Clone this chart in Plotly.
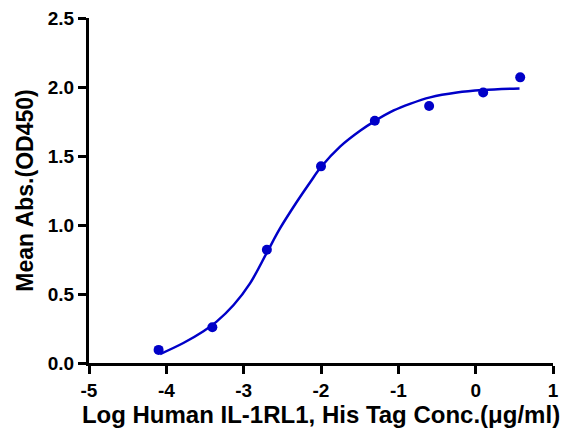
import plotly.graph_objects as go

# Measured points
log_conc = [-4.10, -3.405, -2.70, -2.00, -1.304, -0.602, 0.097, 0.576]
mean_abs = [0.095, 0.259, 0.821, 1.425, 1.756, 1.862, 1.960, 2.070]

# Fitted curve
curve_x = [-4.08, -3.78, -3.52, -3.35, -3.13, -2.92, -2.70, -2.53, -2.31, -2.14,
           -2.00, -1.75, -1.49, -1.30, -1.06, -0.85, -0.589, -0.243, 0.093, 0.567]
curve_y = [0.065, 0.145, 0.230, 0.300, 0.420, 0.575, 0.800, 0.975, 1.170, 1.310,
           1.420, 1.570, 1.685, 1.755, 1.830, 1.878, 1.925, 1.960, 1.978, 1.990]

x_ticks = [-5, -4, -3, -2, -1, 0, 1]
y_ticks = [0.0, 0.5, 1.0, 1.5, 2.0, 2.5]
y_tick_labels = ["0.0", "0.5", "1.0", "1.5", "2.0", "2.5"]

blue = "#0000C8"

fig = go.Figure()
fig.add_trace(go.Scatter(x=curve_x, y=curve_y, mode="lines",
                         line=dict(color=blue, width=2.5, shape="spline", smoothing=1.0),
                         showlegend=False, hoverinfo="skip"))
fig.add_trace(go.Scatter(x=log_conc, y=mean_abs, mode="markers",
                         marker=dict(color=blue, size=10),
                         showlegend=False))

font_family = "Liberation Sans, Arial, sans-serif"
fig.update_layout(
    width=561, height=420,
    margin=dict(l=81, r=16, t=10, b=65),
    plot_bgcolor="white", paper_bgcolor="white",
    font=dict(family=font_family, color="black"),
    xaxis=dict(range=[-5, 1], tickvals=x_ticks, ticktext=[f"<b>{v}</b>" for v in x_ticks],
               showline=True, linecolor="black", linewidth=3, automargin=False,
               ticks="outside", ticklen=8, tickwidth=3, tickcolor="black",
               showgrid=False, zeroline=False, ticklabeloverflow="allow",
               tickfont=dict(size=19, family=font_family),
               title=dict(text="<b>Log Human IL-1RL1, His Tag Conc.(μg/ml)</b>",
                          font=dict(size=24, family=font_family),
                          standoff=0)),
    yaxis=dict(range=[0, 2.5], tickvals=y_ticks, ticktext=[f"<b>{t}</b>" for t in y_tick_labels],
               showline=True, linecolor="black", linewidth=3, automargin=False,
               ticks="outside", ticklen=8, tickwidth=3, tickcolor="black",
               showgrid=False, zeroline=False, ticklabeloverflow="allow",
               tickfont=dict(size=19, family=font_family),
               title=dict(text="<b>Mean Abs.(OD450)</b>",
                          font=dict(size=23, family=font_family),
                          standoff=8)),
)

fig.write_html("out.html")
